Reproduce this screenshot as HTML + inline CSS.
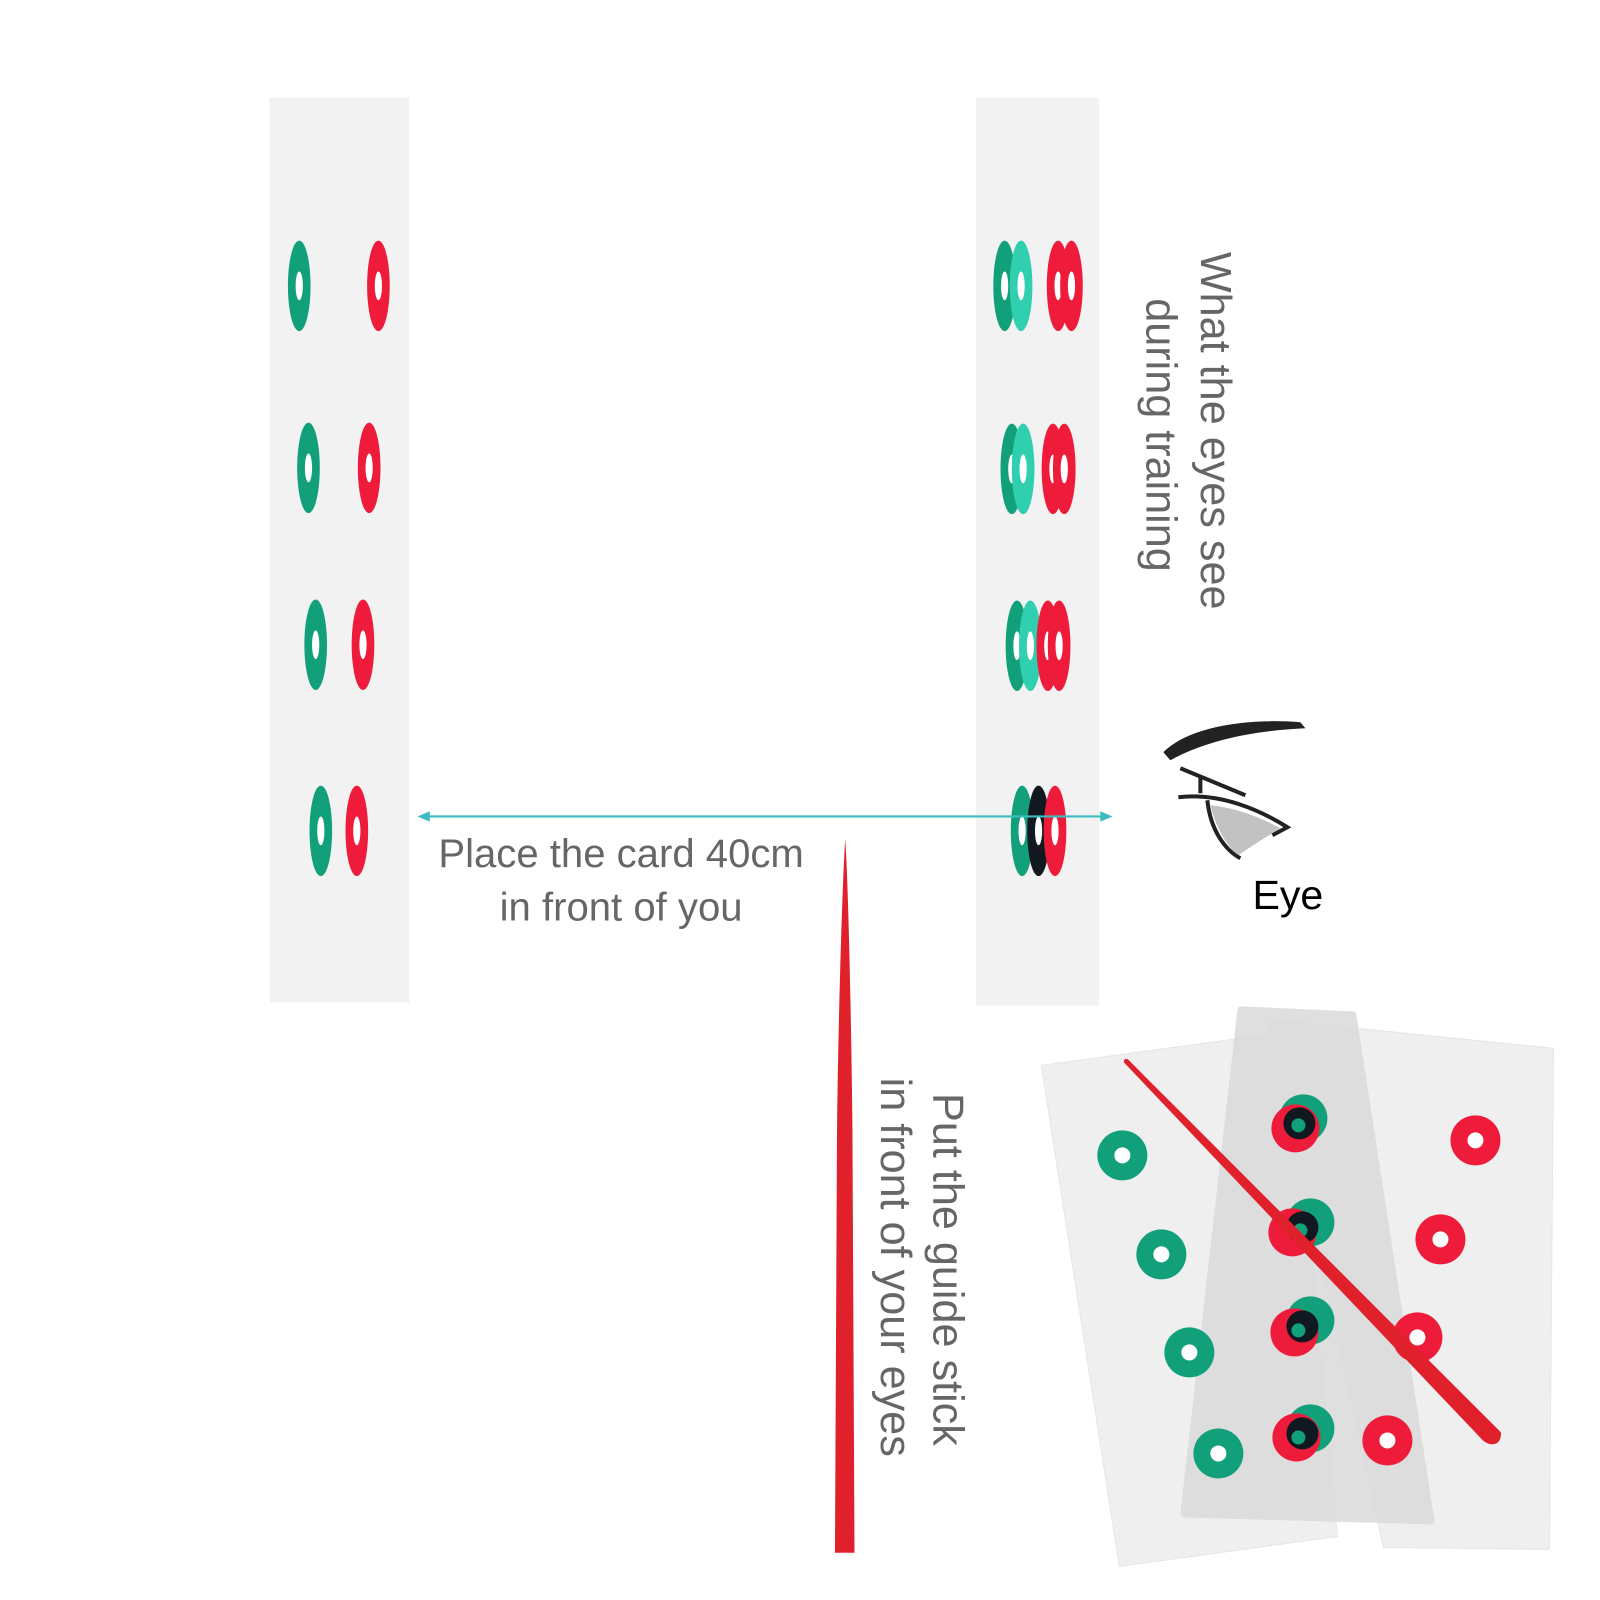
<!DOCTYPE html>
<html><head><meta charset="utf-8"><style>html,body{margin:0;padding:0;background:#fff}svg{display:block}</style></head>
<body>
<svg width="1600" height="1600" viewBox="0 0 1556 1556" xmlns="http://www.w3.org/2000/svg" font-family="Liberation Sans, sans-serif">
<defs>
<g id="go"><ellipse rx="11" ry="44" fill="#12a07a"/><ellipse rx="3.5" ry="14" fill="#fff"/></g>
<g id="gt"><ellipse rx="11" ry="44" fill="#2fcfb0"/><ellipse rx="3.5" ry="14" fill="#fff"/></g>
<g id="ro"><ellipse rx="11" ry="44" fill="#ee1c3a"/><ellipse rx="3.5" ry="14" fill="#fff"/></g>
<g id="bo"><ellipse rx="11" ry="44" fill="#111820"/><ellipse rx="3.5" ry="14" fill="#fff"/></g>
</defs>
<rect x="262" y="95" width="136" height="880" fill="#f2f2f2"/>
<rect x="949" y="95" width="120" height="883" fill="#f2f2f2"/>
<use href="#go" x="291" y="278"/><use href="#ro" x="368" y="278"/>
<use href="#go" x="300" y="455"/><use href="#ro" x="359" y="455"/>
<use href="#go" x="307" y="627"/><use href="#ro" x="353" y="627"/>
<use href="#go" x="312" y="808"/><use href="#ro" x="347" y="808"/>
<use href="#go" x="977" y="278"/><use href="#gt" x="993" y="278"/><use href="#ro" x="1029" y="278"/><use href="#ro" x="1042" y="278"/>
<use href="#go" x="984" y="456"/><use href="#gt" x="995" y="456"/><use href="#ro" x="1024" y="456"/><use href="#ro" x="1035" y="456"/>
<use href="#go" x="989" y="628"/><use href="#gt" x="1002" y="628"/><use href="#ro" x="1019" y="628"/><use href="#ro" x="1030" y="628"/>
<use href="#go" x="994" y="808"/><use href="#bo" x="1010" y="808"/><use href="#ro" x="1026" y="808"/>
<line x1="410" y1="794" x2="1076" y2="794" stroke="#3bbcc0" stroke-width="2"/>
<path d="M406 794 l12 -5 v10 z M1082 794 l-12 -5 v10 z" fill="#3bbcc0"/>
<text x="604" y="843" font-size="39" fill="#666" text-anchor="middle">Place the card 40cm</text>
<text x="604" y="895" font-size="39" fill="#666" text-anchor="middle">in front of you</text>
<text transform="translate(1168,245) rotate(90)" font-size="42" fill="#666">What the eyes see</text>
<text transform="translate(1115,290) rotate(90)" font-size="42" fill="#666">during training</text>
<text transform="translate(908,1063) rotate(90)" font-size="42" fill="#666">Put the guide stick</text>
<text transform="translate(857,1048) rotate(90)" font-size="42" fill="#666">in front of your eyes</text>
<path d="M822 816 C819 860 815 1000 814 1100 L812 1510 L831 1510 L829 1100 C828 1000 825 860 822 816 Z" fill="#e0202a"/>
<text x="1218" y="884" font-size="40" fill="#000">Eye</text>
<g transform="scale(0.9728)">
 <path d="M1163 752 C1190 725 1250 718 1300 722 L1305 728 C1260 730 1210 738 1170 760 Z" fill="#222"/>
 <path d="M1180 768 L1245 795 M1200 775 L1200 793 M1178 797 C1220 792 1260 810 1287 827 L1272 835 M1207 800 C1210 830 1225 850 1240 858" stroke="#222" stroke-width="4" fill="none"/>
 <path d="M1210 805 C1240 808 1265 820 1280 828 C1260 840 1245 850 1238 855 C1225 845 1215 825 1210 805Z" fill="#999" opacity="0.6"/>
 <polygon points="1041,1065 1291,1031 1337,1536 1119,1566" fill="#efefef" stroke="#e6e6e6"/>
 <polygon points="1268,1019 1553,1048 1549,1549 1383,1547" fill="#efefef" stroke="#e6e6e6"/>
 <polygon points="1241,1010 1352,1015 1430,1520 1184,1513" fill="#dcdcdc" opacity="0.9" stroke="#dcdcdc" stroke-width="8" stroke-linejoin="round"/>
 <g fill="#12a07a">
  <circle cx="1122" cy="1155" r="25"/><circle cx="1161" cy="1254" r="25"/><circle cx="1189" cy="1352" r="25"/><circle cx="1218" cy="1453" r="25"/>
 </g>
 <g fill="#ee1c3a">
  <circle cx="1475" cy="1140" r="25"/><circle cx="1440" cy="1239" r="25"/><circle cx="1417" cy="1337" r="25"/><circle cx="1387" cy="1440" r="25"/>
 </g>
 <g>
  <circle cx="1303" cy="1118" r="24" fill="#12a07a"/><circle cx="1295" cy="1128" r="24" fill="#ee1c3a"/><circle cx="1299" cy="1123" r="16" fill="#111820"/>
  <circle cx="1310" cy="1222" r="24" fill="#12a07a"/><circle cx="1292" cy="1232" r="24" fill="#ee1c3a"/><circle cx="1302" cy="1227" r="16" fill="#111820"/>
  <circle cx="1310" cy="1320" r="24" fill="#12a07a"/><circle cx="1294" cy="1332" r="24" fill="#ee1c3a"/><circle cx="1302" cy="1326" r="16" fill="#111820"/>
  <circle cx="1310" cy="1428" r="24" fill="#12a07a"/><circle cx="1296" cy="1437" r="24" fill="#ee1c3a"/><circle cx="1302" cy="1433" r="16" fill="#111820"/>
 </g>
 <g fill="#fff">
  <circle cx="1122" cy="1155" r="8"/><circle cx="1161" cy="1254" r="8"/><circle cx="1189" cy="1352" r="8"/><circle cx="1218" cy="1453" r="8"/>
  <circle cx="1475" cy="1140" r="8"/><circle cx="1440" cy="1239" r="8"/><circle cx="1417" cy="1337" r="8"/><circle cx="1387" cy="1440" r="8"/>
 </g>
 <g fill="#12a07a"><circle cx="1298" cy="1125" r="7"/><circle cx="1300" cy="1230" r="7"/><circle cx="1298" cy="1330" r="7"/><circle cx="1298" cy="1437" r="7"/></g>
 <path d="M1126 1061 L1498 1433 C1498 1443 1490 1443 1484 1438 L1126 1061 Z" fill="#e0202a" stroke="#e0202a" stroke-width="5" stroke-linejoin="round"/>
</g>
</svg>
</body></html>
